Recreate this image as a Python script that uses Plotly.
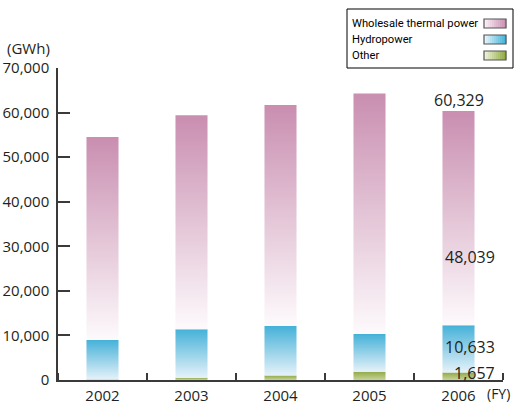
import plotly.graph_objects as go

# ---- data ----
years = ["2002", "2003", "2004", "2005", "2006"]
other = [100, 500, 1000, 1850, 1657]
hydro = [8900, 10900, 11100, 8450, 10633]
thermal = [45500, 48000, 49600, 54000, 48039]
series_names = ["Wholesale thermal power", "Hydropower", "Other"]

# ---- styles ----
FONT = "Open Sans"
TXT = "#231f20"
AX = "#3a3a3a"
grad = {
    "Other": ["#c8d49a", "#93a948"],
    "Hydropower": ["#e6f2f9", "#45b1d8"],
    "Wholesale thermal power": ["#fdfafc", "#c98eb0"],
}
legend_grad = {
    "Wholesale thermal power": ["#fbf3f8", "#c98eb0"],
    "Hydropower": ["#eef7fb", "#3fb0d8"],
    "Other": ["#f1f4e2", "#8ea83d"],
}
HALF = 0.18

# plot area in pixels (for paper conversions)
L, R, T, B = 58, 503, 68, 380
def px(x):
    return (x - L) / (R - L)
def py(y):
    return (B - y) / (B - T)

fig = go.Figure()

stack = [("Other", other), ("Hydropower", hydro), ("Wholesale thermal power", thermal)]
for i, yr in enumerate(years):
    base = 0
    for name, vals in stack:
        v = vals[i]
        top = base + v
        c0, c1 = grad[name]
        fig.add_trace(go.Scatter(
            x=[i - HALF, i + HALF, i + HALF, i - HALF, i - HALF],
            y=[base, base, top, top, base],
            mode="none", fill="toself",
            fillgradient=dict(type="vertical", colorscale=[[0, c0], [1, c1]]),
            hoverinfo="skip", showlegend=False,
        ))
        base = top

# ---- value labels for last year ----
last = len(years) - 1
total_last = other[last] + hydro[last] + thermal[last]
fmt = lambda v: f"{v:,}"
lab_font = dict(family=FONT, size=16, color=TXT)
annotations = [
    dict(x=last, y=total_last, xref="x", yref="y", text=fmt(total_last),
         showarrow=False, yanchor="bottom", yshift=-2, font=lab_font),
    dict(x=last + 0.43, y=27650, xref="x", yref="y", text=fmt(thermal[last]),
         showarrow=False, xanchor="right", yanchor="middle", font=lab_font),
    dict(x=last + 0.43, y=7470, xref="x", yref="y", text=fmt(hydro[last]),
         showarrow=False, xanchor="right", yanchor="middle", font=lab_font),
    dict(x=last + 0.43, y=1640, xref="x", yref="y", text=fmt(other[last]),
         showarrow=False, xanchor="right", yanchor="middle", font=lab_font),
    dict(x=px(5), y=py(48), xref="paper", yref="paper", text="(GWh)",
         showarrow=False, xanchor="left", yanchor="middle",
         font=dict(family=FONT, size=15, color=TXT)),
    dict(x=px(511), y=py(403.5), xref="paper", yref="paper", text="(FY)",
         showarrow=False, xanchor="right", yanchor="bottom", borderpad=0,
         font=dict(family=FONT, size=14, color=TXT)),
]

# ---- custom legend ----
shapes = [dict(type="rect", xref="paper", yref="paper",
               x0=px(347), x1=px(513), y0=py(68), y1=py(9),
               line=dict(color="#000000", width=1), fillcolor="white", layer="above")]
rows_y = [23.5, 39.5, 55.5]
sw_x0, sw_x1, sw_h = 484, 506, 9
nslices = 11
def mix(c0, c1, t):
    a = [int(c0[k:k + 2], 16) for k in (1, 3, 5)]
    b = [int(c1[k:k + 2], 16) for k in (1, 3, 5)]
    return "rgb(%d,%d,%d)" % tuple(round(a[j] + (b[j] - a[j]) * t) for j in range(3))
for name, yc in zip(series_names, rows_y):
    c0, c1 = legend_grad[name]
    w = (sw_x1 - sw_x0) / nslices
    for k in range(nslices):
        shapes.append(dict(type="rect", xref="paper", yref="paper",
                           x0=px(sw_x0 + k * w), x1=px(sw_x0 + (k + 1) * w + 0.3),
                           y0=py(yc + sw_h / 2), y1=py(yc - sw_h / 2),
                           line=dict(width=0), fillcolor=mix(c0, c1, (k + 0.5) / nslices),
                           layer="above"))
    shapes.append(dict(type="rect", xref="paper", yref="paper",
                       x0=px(sw_x0), x1=px(sw_x1), y0=py(yc + sw_h / 2), y1=py(yc - sw_h / 2),
                       line=dict(color="#555555", width=1.2), fillcolor="rgba(0,0,0,0)",
                       layer="above"))
    annotations.append(dict(x=px(350), y=py(yc), xref="paper", yref="paper", text=name,
                            showarrow=False, xanchor="left", yanchor="middle",
                            font=dict(family="Roboto", size=11.2, color="#000000")))

fig.update_layout(
    width=515, height=404,
    margin=dict(l=L, r=515 - R, t=T, b=404 - B, pad=0, autoexpand=False),
    paper_bgcolor="white", plot_bgcolor="white",
    showlegend=False,
    shapes=shapes, annotations=annotations,
    xaxis=dict(range=[-0.5, len(years) - 0.5], tickmode="array",
               tickvals=list(range(len(years))), ticktext=years,
               ticks="", showline=True, linecolor=AX, linewidth=1.5,
               showgrid=False, zeroline=False, ticklabelstandoff=1,
               automargin=False,
               tickfont=dict(family=FONT, size=15, color=TXT),
               minor=dict(tickmode="linear", tick0=0.5, dtick=1, ticks="inside",
                          ticklen=7, tickwidth=1.5, tickcolor=AX, showgrid=False),
               fixedrange=True),
    yaxis=dict(range=[0, 70000], tickmode="array",
               tickvals=list(range(0, 70001, 10000)), tickformat=",d",
               ticks="inside", ticklen=12, tickwidth=1.5, tickcolor=AX,
               showline=True, linecolor=AX, linewidth=1.5,
               showgrid=False, zeroline=False, ticklabelstandoff=4,
               automargin=False,
               tickfont=dict(family=FONT, size=15, color=TXT),
               fixedrange=True),
)

fig.write_html("out.html")
